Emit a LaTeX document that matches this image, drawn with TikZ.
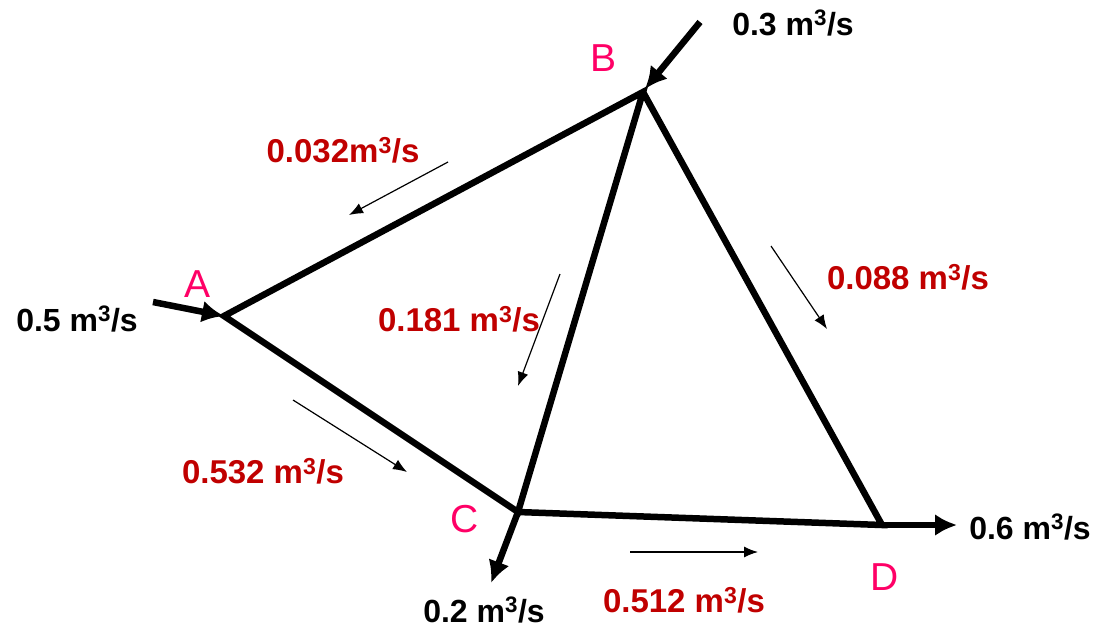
\documentclass[tikz,border=0pt]{standalone}
\usepackage{fontspec}
\setmainfont{Liberation Sans}
\usetikzlibrary{arrows.meta}
\definecolor{jpink}{RGB}{255,0,102}
\definecolor{fred}{RGB}{192,0,0}
\tikzset{
  pipe/.style={line width=6.5pt, line join=miter},
  flowin/.style={line width=6.5pt, -{Latex[length=22pt,width=22pt]}},
  thinarrow/.style={line width=1.2pt, -{Latex[length=14pt,width=11pt]}},
  junction/.style={text=jpink, font=\fontsize{39}{44}\selectfont, inner sep=0pt},
  blklabel/.style={font=\fontsize{32}{36}\selectfont\bfseries, inner sep=0pt},
  redlabel/.style={text=fred, font=\fontsize{33}{38}\selectfont\bfseries, inner sep=0pt}
}
\begin{document}
\begin{tikzpicture}[x=1pt,y=-1pt]
\useasboundingbox (0,0) rectangle (1100,633);
% junction points
\coordinate (A) at (224,316);
\coordinate (B) at (643,92);
\coordinate (C) at (518,512);
\coordinate (D) at (882,525);
% pipes
\draw[pipe] (A) -- (B) -- (C) -- cycle;
\draw[pipe] (B) -- (D) -- (C);
% external flows
\coordinate (Ain) at (153,302);
\coordinate (Bin) at (700,22);
\coordinate (Cout) at (491,583);
\coordinate (Dout) at (957,525);
\draw[flowin] (Ain) -- (A);
\draw[flowin] (Bin) -- (645,89);
\draw[flowin] (C) -- (Cout);
\draw[flowin] (D) -- (Dout);
% junction labels
\node[junction] (lA) at (198,284) {A};
\node[junction] (lB) at (603,58) {B};
\node[junction] (lC) at (465,519) {C};
\node[junction] (lD) at (885,577) {D};
% external flow labels
\node[blklabel] (fA) at (77,319) {0.5 m\textsuperscript{3}/s};
\node[blklabel] (fB) at (793,23) {0.3 m\textsuperscript{3}/s};
\node[blklabel] (fC) at (484,610) {0.2 m\textsuperscript{3}/s};
\node[blklabel] (fD) at (1030,527) {0.6 m\textsuperscript{3}/s};
% pipe flow labels
\node[redlabel] (qAB) at (343,150) {0.032m\textsuperscript{3}/s};
\node[redlabel] (qBD) at (908,277) {0.088 m\textsuperscript{3}/s};
\node[redlabel] (qBC) at (459,319) {0.181 m\textsuperscript{3}/s};
\node[redlabel] (qAC) at (263,471) {0.532 m\textsuperscript{3}/s};
\node[redlabel] (qCD) at (684,600) {0.512 m\textsuperscript{3}/s};
% direction arrows
\coordinate (ab1) at (448,162); \coordinate (ab2) at (349,215);
\coordinate (bc1) at (560,274); \coordinate (bc2) at (518,386);
\coordinate (bd1) at (771,246); \coordinate (bd2) at (827,329);
\coordinate (ac1) at (293,400); \coordinate (ac2) at (407,472);
\coordinate (cd1) at (630,552); \coordinate (cd2) at (758,552);
\draw[thinarrow] (ab1) -- (ab2);
\draw[thinarrow] (bc1) -- (bc2);
\draw[thinarrow] (bd1) -- (bd2);
\draw[thinarrow] (ac1) -- (ac2);
\draw[thinarrow] (cd1) -- (cd2);
\end{tikzpicture}
\end{document}
